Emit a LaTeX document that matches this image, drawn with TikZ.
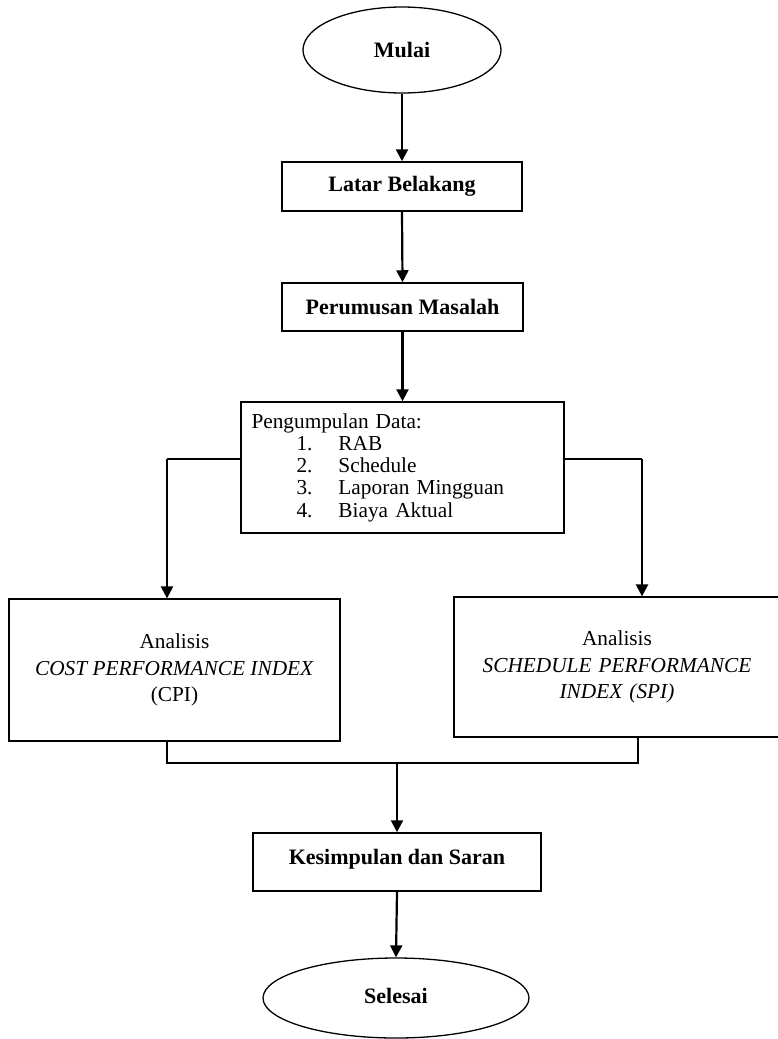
\documentclass[tikz,border=0pt]{standalone}
\usepackage{fontspec}
\setmainfont{Liberation Serif}
\usetikzlibrary{shapes.geometric,arrows.meta,calc}
\begin{document}
\begin{tikzpicture}[x=1pt,y=-1pt,
  hdfont/.style={font=\fontsize{22}{26}\selectfont\bfseries},
  bodyfont/.style={font=\fontsize{21.3}{26.5}\selectfont},
  term/.style={draw,line width=1.3pt,ellipse,inner sep=0pt,hdfont},
  stepbox/.style={draw,line width=1.5pt,rectangle,inner sep=0pt,hdfont},
  anbox/.style={draw,line width=1.2pt,rectangle,inner sep=0pt,bodyfont,align=center},
  flow/.style={line width=2.2pt,-{Triangle[width=12pt,length=12pt]}},
  link/.style={line width=2.2pt},
  thinlink/.style={line width=1.6pt}]
\useasboundingbox (0,0) rectangle (778,1039);
\fill[white] (0,0) rectangle (778,1039);

\node[term,minimum width=198pt,minimum height=86pt] (mulai) at (402,50) {Mulai};
\node[stepbox,minimum width=240pt,minimum height=49pt] (latar) at (402,186.5) {Latar Belakang};
\node[stepbox,minimum width=241pt,minimum height=48pt] (perumusan) at (402.5,307) {Perumusan Masalah};
\node[draw,line width=1.5pt,rectangle,inner sep=0pt,minimum width=323pt,minimum height=131pt,
  font=\fontsize{21.3}{22.25}\selectfont,align=left,text width=302pt] (data) at (402.5,467.5)
  {Pengumpulan Data:\\
   \makebox[87pt][l]{\hspace{45pt}1.}RAB\\
   \makebox[87pt][l]{\hspace{45pt}2.}Schedule\\
   \makebox[87pt][l]{\hspace{45pt}3.}Laporan Mingguan\\
   \makebox[87pt][l]{\hspace{45pt}4.}Biaya Aktual};
\node[anbox,minimum width=331pt,minimum height=142pt] (cpi) at (174.5,670)
  {Analisis\\ \textit{COST PERFORMANCE INDEX}\\ (CPI)};
\node[anbox,minimum width=336pt,minimum height=140pt,text width=330pt] (spi) at (622,667)
  {\hspace*{-10pt}Analisis\\ \hspace*{-10pt}\textit{SCHEDULE PERFORMANCE}\\ \hspace*{-10pt}\textit{INDEX (SPI)}};
\node[stepbox,minimum width=288pt,minimum height=58pt,text depth=0pt] (kes) at (397,862)
  {\raisebox{10pt}{Kesimpulan dan Saran}};
\node[term,minimum width=266pt,minimum height=80pt] (selesai) at (396,998) {\raisebox{4pt}{Selesai}};

\draw[flow] (mulai.south) -- (latar.north);
\draw[flow] (latar.south) -- (perumusan.north);
\draw[flow] (perumusan.south) -- (data.north);
\draw[thinlink] ([yshift=-58pt]data.north west) -- ([xshift=-7.5pt,yshift=-58pt]cpi.north |- data.north west);
\draw[flow] ([xshift=-7.5pt,yshift=-58pt]cpi.north |- data.north west) -- ([xshift=-7.5pt]cpi.north);
\draw[thinlink] ([yshift=-58pt]data.north east) -- ([xshift=20pt,yshift=-58pt]spi.north |- data.north east);
\draw[flow] ([xshift=20pt,yshift=-58pt]spi.north |- data.north east) -- ([xshift=20pt]spi.north);
\coordinate (join) at (397,763);
\draw[link] ([xshift=-7.5pt]cpi.south) |- (join) -| ([xshift=16pt]spi.south);
\draw[flow] (join) -- (kes.north);
\draw[flow] (kes.south) -- (selesai.north);
\end{tikzpicture}
\end{document}
